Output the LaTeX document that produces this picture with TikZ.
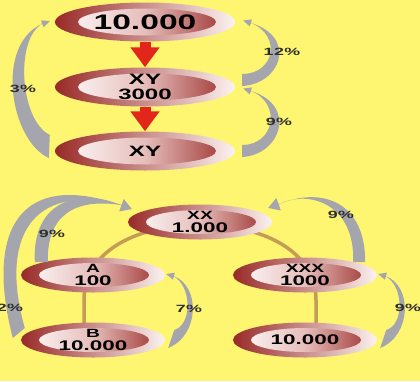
\documentclass[tikz,border=0pt]{standalone}
\usepackage{fontspec}
\usetikzlibrary{shapes.geometric,arrows.meta,calc}
\newfontfamily\diafont{Liberation Sans}[FakeStretch=1.6]
\newfontfamily\labfont{Liberation Sans}[FakeStretch=1.7,LetterSpace=4]
\definecolor{bgy}{HTML}{FEF570}
\definecolor{dred}{HTML}{982A28}
\definecolor{lpink}{HTML}{FBF2F0}
\definecolor{midpink}{HTML}{E6BDBA}
\definecolor{garr}{HTML}{A5A5AD}
\definecolor{tanc}{HTML}{C39C55}
\definecolor{redar}{HTML}{E3261C}
\definecolor{labc}{HTML}{2E2E2E}
\pgfdeclarelayer{bg}
\pgfsetlayers{bg,main}
\tikzset{
  oval/.style={ellipse, inner sep=0pt, left color=dred, right color=lpink, align=center, text=black},
  bigoval/.style={oval, minimum width=180pt, minimum height=39pt,
    path picture={\shade[left color=white, right color=dred, middle color=midpink]
      ([xshift=2pt]path picture bounding box.center) ellipse [x radius=69pt, y radius=13.5pt];}},
  smalloval/.style={oval, minimum width=144pt, minimum height=35pt,
    path picture={\shade[left color=white, right color=dred, middle color=midpink]
      ([xshift=1pt]path picture bounding box.center) ellipse [x radius=55pt, y radius=12pt];}},
  bigtxt/.style={font=\diafont\bfseries\fontsize{21}{21}\selectfont},
  midtxt/.style={font=\diafont\bfseries\fontsize{15}{15}\selectfont},
  lbl/.style={font=\labfont\bfseries\fontsize{10.5}{10.5}\selectfont, text=labc, inner sep=0pt},
  redarrow/.style={draw=redar, line width=11pt, -{Triangle[width=28pt,length=20pt]}},
  gshape/.style={fill=garr},
  ghead/.style={draw=garr, fill=garr, line width=1pt, -{Triangle[length=8pt,width=7pt]}},
  gbighead/.style={draw=garr, fill=garr, line width=1pt, -{Triangle[length=11pt,width=13pt]}},
  tanline/.style={draw=tanc, line width=3.5pt},
}
\begin{document}
\begin{tikzpicture}[x=1pt, y=-1pt]
\useasboundingbox (0,0) rectangle (420,381);
% top column
\node[bigoval, bigtxt] (e1) at (145,22) {10.000};
\node[bigoval, midtxt] (e2) at (145,87) {XY\\3000};
\node[bigoval, midtxt] (e3) at (145,151) {XY};
% bottom tree
\node[smalloval, font=\diafont\bfseries\fontsize{12}{13.5}\selectfont] (xx) at (200,222) {XX\\\fontsize{14}{13.5}\selectfont 1.000};
\node[smalloval, font=\diafont\bfseries\fontsize{12}{13.5}\selectfont] (a) at (93,275) {A\\\fontsize{14}{13.5}\selectfont 100};
\node[smalloval, font=\diafont\bfseries\fontsize{12}{13.5}\selectfont] (xxx) at (305,275) {XXX\\\fontsize{14}{13.5}\selectfont 1000};
\node[smalloval, font=\diafont\bfseries\fontsize{12}{13.5}\selectfont] (b) at (93,340) {B\\\fontsize{14}{13.5}\selectfont 10.000};
\node[smalloval, font=\diafont\bfseries\fontsize{14}{13.5}\selectfont] (d) at (305,340) {10.000};

\begin{pgfonlayer}{bg}
  \fill[bgy] (0,0) rectangle (420,381);
  \draw[tanline] ($(b.center)+(-9,0)$) -- ($(a.center)+(-9,25)$)
     .. controls +(0,-46) and +(-68,0) .. ($(xx.center)+(0,3)$)
     .. controls +(68,0) and +(0,-46) .. ($(xxx.center)+(11,25)$)
     -- ($(d.center)+(11,0)$);
\end{pgfonlayer}

% red arrows
\draw[redarrow] (e1.south) -- (e2.north);
\draw[redarrow] (e2.south) -- (e3.north);

% 12% arrow e2 -> e1
\coordinate (t1o) at ($(e2.east)+(7,-1)$);
\coordinate (t1i) at ($(e2.east)+(7,-13)$);
\coordinate (h1) at ($(e1.east)+(16,1)$);
\fill[gshape] (t1o) .. controls +(38,-2) and +(47,15) .. (h1)
   .. controls +(31,13) and +(32,0) .. (t1i) -- cycle;
\draw[ghead] (h1) -- +(-8,-2.5);

% 9% arrow e3 -> e2
\coordinate (t2o) at ($(e3.east)+(7,6)$);
\coordinate (t2i) at ($(e3.east)+(7,-6)$);
\coordinate (h2) at ($(e2.east)+(16,4)$);
\fill[gshape] (t2o) .. controls +(38,-2) and +(47,15) .. (h2)
   .. controls +(31,13) and +(32,0) .. (t2i) -- cycle;
\draw[ghead] (h2) -- +(-8,-2.5);

% 3% arrow e3 -> e1
\coordinate (t3o) at ($(e3.west)+(-6,7)$);
\coordinate (t3i) at ($(e3.west)+(-5,-16)$);
\coordinate (h3) at ($(e1.west)+(-13,2)$);
\fill[gshape] (t3o) .. controls +(-39,-18) and +(-47,21) .. (h3)
   .. controls +(-27,16) and +(-30,-15) .. (t3i) -- cycle;
\draw[ghead] (h3) -- +(8,-3);

% 9% arrow a -> xx
\coordinate (t4o) at ($(a.west)+(14,-13)$);
\coordinate (t4i) at ($(a.west)+(27,-13)$);
\coordinate (h4) at ($(xx.west)+(-7,-17)$);
\fill[gshape] (t4o) .. controls +(-3,-62) and +(-41,-17) .. (h4)
   .. controls +(-46,-7) and +(-1,-47) .. (t4i) -- cycle;

% 2% arrow b -> xx
\coordinate (t5o) at ($(b.west)+(-8,-2)$);
\coordinate (t5i) at ($(b.west)+(4,-12)$);
\fill[gshape] (t5o) .. controls +(-28,-108) and +(-101,-35) .. (h4)
   .. controls +(-91,-23) and +(-25,-88) .. (t5i) -- cycle;
\draw[gbighead] (h4) -- +(11,4);

% 7% arrow b -> a
\coordinate (t6o) at ($(b.east)+(3,8)$);
\coordinate (t6i) at ($(b.east)+(9,-10)$);
\coordinate (h6) at ($(a.east)+(8,1)$);
\fill[gshape] (t6o) .. controls +(32,-13) and +(27,9) .. (h6)
   .. controls +(19,10) and +(18,-5) .. (t6i) -- cycle;
\draw[ghead] (h6) -- +(-7,-2);

% 9% arrow xxx -> xx
\coordinate (t7o) at ($(xxx.east)+(-12,-13)$);
\coordinate (t7i) at ($(xxx.east)+(-24,-13)$);
\coordinate (h7) at ($(xx.east)+(7,-18)$);
\fill[gshape] (t7o) .. controls +(0,-62) and +(41,-17) .. (h7)
   .. controls +(31,-15) and +(2,-57) .. (t7i) -- cycle;
\draw[gbighead] (h7) -- +(-11,4);

% 9% arrow d -> xxx
\coordinate (t8o) at ($(d.east)+(3,8)$);
\coordinate (t8i) at ($(d.east)+(9,-10)$);
\coordinate (h8) at ($(xxx.east)+(8,1)$);
\fill[gshape] (t8o) .. controls +(32,-13) and +(27,9) .. (h8)
   .. controls +(19,10) and +(18,-5) .. (t8i) -- cycle;
\draw[ghead] (h8) -- +(-7,-2);

% labels
\node[lbl] (l1) at (282,52) {12\%};
\node[lbl] (l2) at (279,122) {9\%};
\node[lbl] (l3) at (23,89) {3\%};
\node[lbl] (l4) at (52,234) {9\%};
\node[lbl] (l5) at (10,308) {2\%};
\node[lbl] (l6) at (189,309) {7\%};
\node[lbl] (l7) at (341,215) {9\%};
\node[lbl] (l8) at (408,308) {9\%};
\end{tikzpicture}
\end{document}
